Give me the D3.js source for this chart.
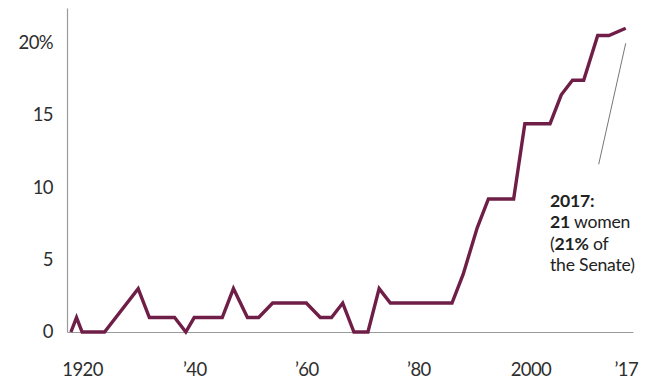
<!DOCTYPE html>
<html>
<head>
<meta charset="utf-8">
<script src="https://cdn.jsdelivr.net/npm/d3@7"></script>
<style>
  html, body { margin: 0; padding: 0; background: #fff; }
  svg { display: block; font-family: Lato, "Open Sans", sans-serif; }
  .axis text { fill: #2e2e2e; font-size: 18.5px; letter-spacing: -0.6px; }
  .axis path { stroke: #9a9a9a; stroke-width: 1.2px; }
  .note { fill: #222; font-size: 17.6px; letter-spacing: -0.2px; }
  .note .b { font-weight: 700; }
</style>
</head>
<body>
<svg id="chart" width="648" height="379"></svg>
<script>
// Share of U.S. Senate seats held by women, by year (percent)
const years = [1918, 1919, 1920, 1924, 1930, 1932, 1936.5, 1938.5, 1940, 1945,
               1947, 1949.5, 1951.5, 1954, 1960, 1962.5, 1964.5, 1966.5, 1968.5, 1971,
               1973, 1975, 1986, 1988, 1990.5, 1992.5, 1997, 1999, 2003.5, 2005.5,
               2007.5, 2009.5, 2012, 2014, 2017];
const shares = [0, 1, 0, 0, 3, 1, 1, 0, 1, 1,
                3, 1, 1, 2, 2, 1, 1, 2, 0, 0,
                3, 2, 2, 4, 7.2, 9.2, 9.2, 14.4, 14.4, 16.4,
                17.4, 17.4, 20.5, 20.5, 21];

const xTickValues = [1920, 1940, 1960, 1980, 2000, 2017];
const xTickLabels = ["1920", "’40", "’60", "’80", "2000", "’17"];
const yTickValues = [0, 5, 10, 15, 20];
const yTickLabels = ["0", "5", "10", "15", "20%"];

const noteLines = [
  [{ t: "2017:", b: true }],
  [{ t: "21", b: true }, { t: " women", b: false }],
  [{ t: "(", b: false }, { t: "21%", b: true }, { t: " of", b: false }],
  [{ t: "the Senate)", b: false }]
];

const svg = d3.select("#chart");

const x = d3.scaleLinear().domain([1917.3, 2018.3]).range([67, 633]);
const y = d3.scaleLinear().domain([0, 22.4]).range([332, 8]);

// Axes
svg.append("g")
  .attr("class", "axis")
  .attr("transform", `translate(0,${y(0)})`)
  .call(d3.axisBottom(x)
    .tickValues(xTickValues)
    .tickFormat((d, i) => xTickLabels[i])
    .tickSize(0).tickSizeOuter(0).tickPadding(31));

svg.append("g")
  .attr("class", "axis")
  .attr("transform", `translate(${x.range()[0]},0)`)
  .call(d3.axisLeft(y)
    .tickValues(yTickValues)
    .tickFormat((d, i) => yTickLabels[i])
    .tickSize(0).tickSizeOuter(0).tickPadding(14));

svg.selectAll(".axis").attr("font-family", null).attr("font-size", null);

// Series line
const pts = years.map((yr, i) => [yr, shares[i]]);
svg.append("path")
  .datum(pts)
  .attr("fill", "none")
  .attr("stroke", "#6f1f47")
  .attr("stroke-width", 3.4)
  .attr("stroke-linejoin", "miter")
  .attr("d", d3.line().x(d => x(d[0])).y(d => y(d[1])));

// Callout for the latest value
const last = pts[pts.length - 1];
svg.append("line")
  .attr("x1", x(last[0])).attr("y1", y(last[1]) + 15)
  .attr("x2", x(last[0]) - 27).attr("y2", y(last[1]) + 136)
  .attr("stroke", "#777").attr("stroke-width", 1);

const note = svg.append("text").attr("class", "note");
noteLines.forEach((parts, i) => {
  const line = note.append("tspan").attr("x", 550).attr("y", 206.5 + i * 21.6);
  parts.forEach(p => {
    line.append("tspan").attr("class", p.b ? "b" : null).text(p.t);
  });
});
</script>
</body>
</html>
